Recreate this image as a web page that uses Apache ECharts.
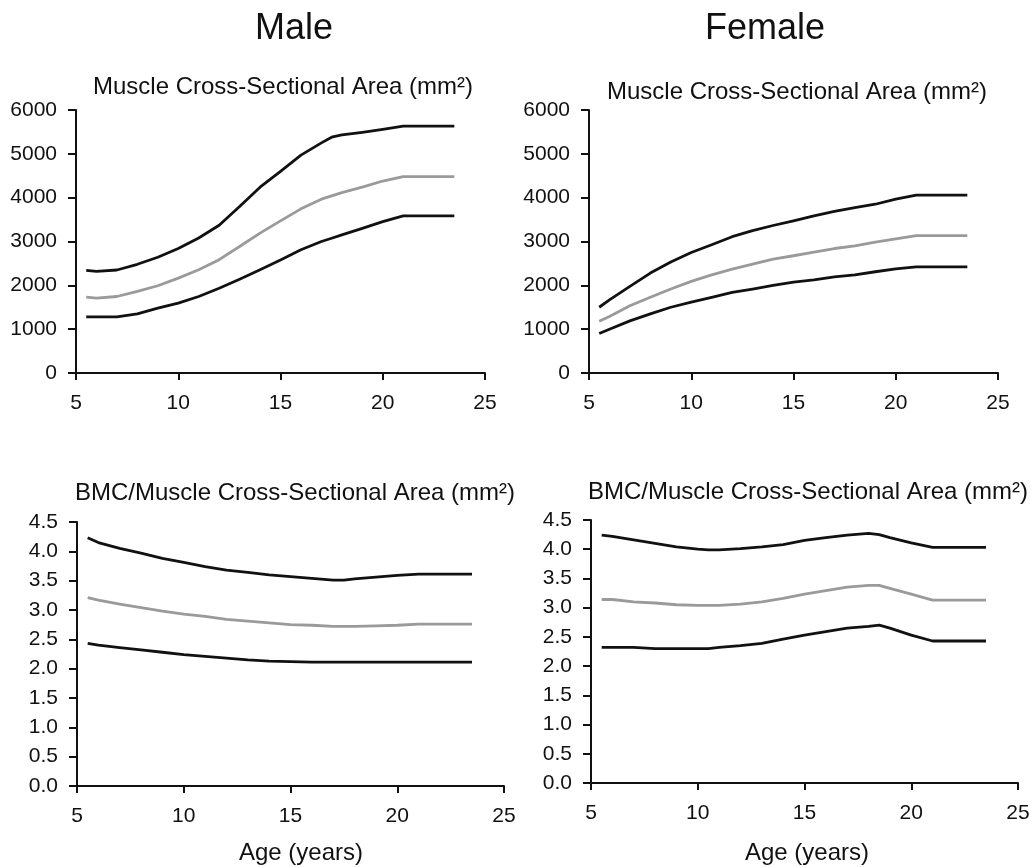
<!DOCTYPE html>
<html>
<head>
<meta charset="utf-8">
<script src="https://cdn.jsdelivr.net/npm/echarts@6/dist/echarts.min.js"></script>
<style>html,body{margin:0;padding:0;background:#fff}#c{width:1035px;height:867px}</style>
</head>
<body>
<div id="c"></div>
<script>
// Ages (x values) per panel
var agesMaleMCSA = [5.5, 6, 7, 8, 9, 10, 11, 12, 13, 14, 15, 16, 17, 17.5, 18, 19, 20, 21, 23.5];
var maleMCSAUpper = [2340, 2320, 2350, 2480, 2640, 2840, 3080, 3370, 3800, 4240, 4600, 4970, 5250, 5380, 5430, 5490, 5560, 5630, 5630];
var maleMCSAMedian = [1730, 1710, 1745, 1860, 1990, 2165, 2355, 2585, 2885, 3190, 3470, 3745, 3965, 4040, 4115, 4240, 4380, 4480, 4480];
var maleMCSALower = [1280, 1280, 1280, 1350, 1480, 1595, 1745, 1935, 2140, 2355, 2580, 2810, 3000, 3075, 3150, 3300, 3455, 3585, 3585];

var agesFemaleMCSA = [5.5, 6, 7, 8, 9, 10, 11, 12, 13, 14, 15, 16, 17, 18, 19, 20, 21, 23.5];
var femaleMCSAUpper = [1500, 1670, 1975, 2280, 2530, 2750, 2925, 3110, 3250, 3365, 3470, 3585, 3685, 3775, 3850, 3965, 4060, 4060];
var femaleMCSAMedian = [1180, 1290, 1535, 1730, 1915, 2090, 2240, 2370, 2485, 2600, 2675, 2755, 2840, 2900, 2985, 3060, 3135, 3135];
var femaleMCSALower = [900, 1000, 1190, 1350, 1500, 1615, 1725, 1840, 1915, 2000, 2075, 2125, 2195, 2240, 2310, 2375, 2420, 2420];

var agesMaleRatio = [5.5, 6, 7, 8, 9, 10, 11, 12, 13, 14, 15, 16, 17, 17.5, 18, 19, 20, 21, 23.5];
var maleRatioUpper = [4.23, 4.15, 4.05, 3.97, 3.88, 3.81, 3.74, 3.68, 3.64, 3.60, 3.57, 3.54, 3.51, 3.51, 3.53, 3.56, 3.59, 3.61, 3.61];
var maleRatioMedian = [3.21, 3.17, 3.10, 3.04, 2.98, 2.93, 2.89, 2.84, 2.81, 2.78, 2.75, 2.74, 2.72, 2.72, 2.72, 2.73, 2.74, 2.76, 2.76];
var maleRatioLower = [2.43, 2.40, 2.36, 2.32, 2.28, 2.24, 2.21, 2.18, 2.15, 2.13, 2.12, 2.11, 2.11, 2.11, 2.11, 2.11, 2.11, 2.11, 2.11];

var agesFemaleRatio = [5.5, 6, 7, 8, 9, 10, 10.5, 11, 12, 13, 14, 15, 16, 17, 18, 18.5, 19, 20, 21, 23.5];
var femaleRatioUpper = [4.24, 4.22, 4.16, 4.10, 4.04, 4.00, 3.99, 3.99, 4.01, 4.04, 4.08, 4.15, 4.20, 4.24, 4.27, 4.25, 4.20, 4.11, 4.03, 4.03];
var femaleRatioMedian = [3.14, 3.14, 3.10, 3.08, 3.05, 3.04, 3.04, 3.04, 3.06, 3.10, 3.16, 3.23, 3.29, 3.35, 3.38, 3.38, 3.33, 3.23, 3.13, 3.13];
var femaleRatioLower = [2.32, 2.32, 2.32, 2.30, 2.30, 2.30, 2.30, 2.32, 2.35, 2.39, 2.46, 2.53, 2.59, 2.65, 2.68, 2.70, 2.65, 2.53, 2.43, 2.43];

var panelTitleTop = 'Muscle Cross-Sectional Area (mm\u00B2)';
var panelTitleBottom = 'BMC/Muscle Cross-Sectional Area (mm\u00B2)';

function pairs(xs, ys) { return xs.map(function (x, i) { return [x, ys[i]]; }); }

var FONT = '"Liberation Sans", Arial, Helvetica, sans-serif';
var BLACK = '#111';
var GRAY = '#9a9a9a';

var grids = [
  { left: 76, top: 110, width: 409, height: 263 },
  { left: 589, top: 110, width: 409, height: 263 },
  { left: 77, top: 522, width: 427, height: 264 },
  { left: 591, top: 520, width: 427, height: 263 }
];

function xAxis(i) {
  return {
    gridIndex: i, type: 'value', min: 5, max: 25, interval: 5,
    axisLine: { lineStyle: { color: BLACK, width: 2 } },
    axisTick: { length: 7, lineStyle: { color: BLACK, width: 2 } },
    axisLabel: { color: BLACK, fontSize: 21, fontFamily: FONT, margin: 20 },
    splitLine: { show: false }
  };
}
function yAxis(i, isRatio) {
  return {
    gridIndex: i, type: 'value', min: 0, max: isRatio ? 4.5 : 6000, interval: isRatio ? 0.5 : 1000,
    axisLine: { show: true, lineStyle: { color: BLACK, width: 2 } },
    axisTick: { show: true, length: 8, lineStyle: { color: BLACK, width: 2 } },
    axisLabel: {
      color: BLACK, fontSize: 21, fontFamily: FONT, margin: 19,
      formatter: isRatio ? function (v) { return v.toFixed(1); } : function (v) { return String(v); }
    },
    splitLine: { show: false }
  };
}
function line(i, xs, ys, color) {
  return {
    type: 'line', xAxisIndex: i, yAxisIndex: i, data: pairs(xs, ys),
    showSymbol: false, smooth: false, silent: true,
    lineStyle: { color: color, width: 2.8, join: 'round' }
  };
}

function text(x, y, str, size) {
  return {
    type: 'text', x: x, y: y,
    style: { text: str, fill: BLACK, font: size + 'px ' + FONT, textAlign: 'center', textVerticalAlign: 'middle' }
  };
}

var option = {
  animation: false,
  backgroundColor: '#fff',
  grid: grids,
  xAxis: [xAxis(0), xAxis(1), xAxis(2), xAxis(3)],
  yAxis: [yAxis(0, false), yAxis(1, false), yAxis(2, true), yAxis(3, true)],
  series: [
    line(0, agesMaleMCSA, maleMCSAUpper, BLACK),
    line(0, agesMaleMCSA, maleMCSAMedian, GRAY),
    line(0, agesMaleMCSA, maleMCSALower, BLACK),
    line(1, agesFemaleMCSA, femaleMCSAUpper, BLACK),
    line(1, agesFemaleMCSA, femaleMCSAMedian, GRAY),
    line(1, agesFemaleMCSA, femaleMCSALower, BLACK),
    line(2, agesMaleRatio, maleRatioUpper, BLACK),
    line(2, agesMaleRatio, maleRatioMedian, GRAY),
    line(2, agesMaleRatio, maleRatioLower, BLACK),
    line(3, agesFemaleRatio, femaleRatioUpper, BLACK),
    line(3, agesFemaleRatio, femaleRatioMedian, GRAY),
    line(3, agesFemaleRatio, femaleRatioLower, BLACK)
  ],
  graphic: [
    text(294, 29, 'Male', 36),
    text(765, 29, 'Female', 36),
    text(283, 87, panelTitleTop, 24),
    text(797, 92, panelTitleTop, 24),
    text(295, 493, panelTitleBottom, 24),
    text(808, 492, panelTitleBottom, 24),
    text(301, 853, 'Age (years)', 24),
    text(807, 853, 'Age (years)', 24)
  ]
};

var chart = echarts.init(document.getElementById('c'), null, { renderer: 'canvas' });
chart.setOption(option);
</script>
</body>
</html>
